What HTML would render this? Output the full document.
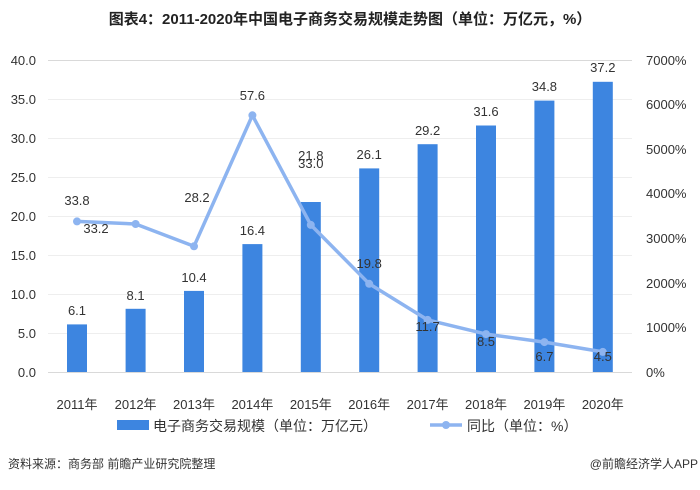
<!DOCTYPE html>
<html><head><meta charset="utf-8"><style>
body{margin:0;background:#fff;}
svg text{font-family:"Liberation Sans","Noto Sans CJK SC",sans-serif;fill:#333;}
</style></head><body>
<svg width="700" height="485" viewBox="0 0 700 485" xmlns="http://www.w3.org/2000/svg">
<text x="350" y="24" text-anchor="middle" font-size="15" font-weight="bold" style="fill:#222">图表4：2011-2020年中国电子商务交易规模走势图（单位：万亿元，%）</text>
<g stroke="#eeeeee" stroke-width="1">
<line x1="48" x2="632" y1="60.5" y2="60.5" stroke="#d9d9d9"/>
<line x1="48" x2="632" y1="99.5" y2="99.5"/>
<line x1="48" x2="632" y1="138.5" y2="138.5"/>
<line x1="48" x2="632" y1="177.5" y2="177.5"/>
<line x1="48" x2="632" y1="216.5" y2="216.5"/>
<line x1="48" x2="632" y1="255.5" y2="255.5"/>
<line x1="48" x2="632" y1="294.5" y2="294.5"/>
<line x1="48" x2="632" y1="333.5" y2="333.5"/>
</g>
<line x1="48" x2="632" y1="372.5" y2="372.5" stroke="#d9d9d9"/>
<g font-size="13" text-anchor="end">
<text x="36" y="65">40.0</text><text x="36" y="104">35.0</text><text x="36" y="143">30.0</text><text x="36" y="182">25.0</text><text x="36" y="221">20.0</text><text x="36" y="260">15.0</text><text x="36" y="299">10.0</text><text x="36" y="338">5.0</text><text x="36" y="377">0.0</text>
</g>
<g font-size="13" text-anchor="start">
<text x="646" y="65">7000%</text><text x="646" y="109">6000%</text><text x="646" y="154">5000%</text><text x="646" y="198">4000%</text><text x="646" y="243">3000%</text><text x="646" y="288">2000%</text><text x="646" y="332">1000%</text><text x="646" y="377">0%</text>
</g>
<g fill="#3d85e0">
<rect x="67" y="324.4" width="20" height="47.6"/>
<rect x="125.6" y="308.8" width="20" height="63.2"/>
<rect x="184" y="290.9" width="20" height="81.1"/>
<rect x="242.4" y="244.1" width="20" height="127.9"/>
<rect x="300.8" y="202" width="20" height="170"/>
<rect x="359.2" y="168.4" width="20" height="203.6"/>
<rect x="417.6" y="144.2" width="20" height="227.8"/>
<rect x="476" y="125.5" width="20" height="246.5"/>
<rect x="534.4" y="100.6" width="20" height="271.4"/>
<rect x="592.8" y="81.8" width="20" height="290.2"/>
</g>
<g font-size="13" text-anchor="middle">
<text x="77" y="315">6.1</text><text x="135.6" y="300">8.1</text><text x="194" y="282">10.4</text><text x="252.4" y="235">16.4</text><text x="310.8" y="160">21.8</text><text x="369.2" y="159">26.1</text><text x="427.6" y="135">29.2</text><text x="486" y="116">31.6</text><text x="544.4" y="91">34.8</text><text x="602.8" y="72">37.2</text>
</g>
<polyline fill="none" stroke="#8db4f0" stroke-width="3.5" stroke-linejoin="round" points="77,221.4 135.6,224 194,246.3 252.4,115.3 310.8,224.9 369.2,283.8 427.6,319.9 486,334.1 544.4,342.1 602.8,351.9"/>
<g fill="#8db4f0">
<circle cx="77" cy="221.4" r="4"/><circle cx="135.6" cy="224" r="4"/><circle cx="194" cy="246.3" r="4"/><circle cx="252.4" cy="115.3" r="4"/><circle cx="310.8" cy="224.9" r="4"/><circle cx="369.2" cy="283.8" r="4"/><circle cx="427.6" cy="319.9" r="4"/><circle cx="486" cy="334.1" r="4"/><circle cx="544.4" cy="342.1" r="4"/><circle cx="602.8" cy="351.9" r="4"/>
</g>
<g font-size="13" text-anchor="middle">
<text x="77" y="205">33.8</text><text x="96" y="233">33.2</text><text x="197" y="202">28.2</text><text x="252.4" y="100">57.6</text><text x="310.8" y="168">33.0</text><text x="369.2" y="268">19.8</text><text x="427.6" y="331">11.7</text><text x="486" y="346">8.5</text><text x="544.4" y="361">6.7</text><text x="602.8" y="361">4.5</text>
</g>
<g font-size="13" text-anchor="middle">
<text x="77" y="409">2011年</text><text x="135.6" y="409">2012年</text><text x="194" y="409">2013年</text><text x="252.4" y="409">2014年</text><text x="310.8" y="409">2015年</text><text x="369.2" y="409">2016年</text><text x="427.6" y="409">2017年</text><text x="486" y="409">2018年</text><text x="544.4" y="409">2019年</text><text x="602.8" y="409">2020年</text>
</g>
<rect x="117" y="420" width="32" height="10" fill="#3d85e0"/>
<text x="153" y="431" font-size="14">电子商务交易规模（单位：万亿元）</text>
<line x1="430" x2="462" y1="425" y2="425" stroke="#8db4f0" stroke-width="3.5"/>
<circle cx="446" cy="425" r="4" fill="#8db4f0"/>
<text x="467" y="431" font-size="14">同比（单位：%）</text>
<text x="8" y="468" font-size="12">资料来源：商务部 前瞻产业研究院整理</text>
<text x="698" y="468" font-size="12" text-anchor="end">@前瞻经济学人APP</text>
</svg>
</body></html>
